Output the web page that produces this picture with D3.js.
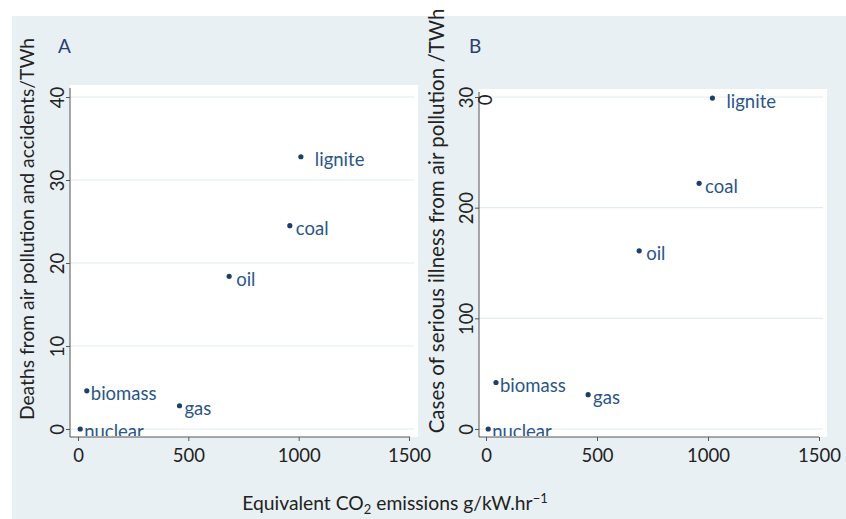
<!DOCTYPE html>
<html>
<head>
<meta charset="utf-8">
<script src="https://cdn.jsdelivr.net/npm/d3@7"></script>
<style>
  body { margin: 0; background: #fff; }
  svg text { font-family: Lato, "Open Sans", sans-serif; }
</style>
</head>
<body>
<div id="chart"></div>
<script>
// data
const sources = ["nuclear", "biomass", "gas", "oil", "coal", "lignite"];
const co2 = [10, 40, 460, 685, 960, 1010];            // g/kW.hr
const co2B = [10, 45, 460, 690, 960, 1020];
const deaths = [0, 4.6, 2.8, 18.4, 24.5, 32.8];         // per TWh
const illness = [0, 42, 31, 161, 222, 299];            // per TWh
const xTicks = [0, 500, 1000, 1500];
const yTicksA = [0, 10, 20, 30, 40];
const yTicksB = [0, 100, 200, 300];
const yTickLabelsB = ["0", "100", "200", "30"];       // the 300 label is split in the original

const width = 846, height = 519;

// gap between a dot and its label (style only)
const labelGap = { nuclear: 4, biomass: 4, gas: 5, oil: 7, coal: 6, lignite: 14 };

const svg = d3.select("#chart")
  .append("svg")
  .attr("width", width)
  .attr("height", height)
  .attr("viewBox", [0, 0, width, height]);

// grey graph region
svg.append("rect")
  .attr("x", 12).attr("y", 16)
  .attr("width", width - 12).attr("height", height - 16)
  .attr("fill", "#e8f0f3");

function panel(cfg) {
  const g = svg.append("g");

  const x = d3.scaleLinear().domain([0, 1500]).range(cfg.xr);
  const y = d3.scaleLinear().domain(cfg.ydom).range([429, 97]);

  // white plot region
  g.append("rect")
    .attr("x", cfg.box[0]).attr("y", cfg.box[1])
    .attr("width", cfg.box[2] - cfg.box[0])
    .attr("height", cfg.box[3] - cfg.box[1])
    .attr("fill", "#fff");

  // gridlines
  g.selectAll(".grid")
    .data(cfg.yticks)
    .join("line")
    .attr("x1", cfg.box[0]).attr("x2", cfg.box[2] - 4)
    .attr("y1", d => y(d)).attr("y2", d => y(d))
    .attr("stroke", "#e2ebf0")
    .attr("stroke-width", 1.2);

  // y axis
  const ya = g.append("g")
    .attr("transform", `translate(${cfg.box[0]},0)`)
    .call(d3.axisLeft(y)
      .tickValues(cfg.yticks)
      .tickSize(4)
      .tickSizeOuter(0)
      .tickFormat((d, i) => cfg.ylabels[i]));
  ya.select(".domain")
    .attr("d", `M0,${cfg.box[1] + 3}V${cfg.box[3]}`)
    .attr("stroke", "#555");
  ya.selectAll(".tick line").attr("stroke", "#555");
  ya.selectAll(".tick text")
    .attr("transform", "rotate(-90)")
    .attr("x", 0).attr("y", -6).attr("dy", 0)
    .attr("text-anchor", "middle")
    .attr("font-size", 18.5)
    .attr("fill", "#222");

  // x axis
  const xa = g.append("g")
    .attr("transform", `translate(0,${cfg.box[3]})`)
    .call(d3.axisBottom(x)
      .tickValues(xTicks)
      .tickSize(4)
      .tickSizeOuter(0)
      .tickFormat(d3.format("d")));
  xa.select(".domain")
    .attr("d", `M${cfg.box[0]},0H${cfg.box[2] - 8}`)
    .attr("stroke", "#555");
  xa.selectAll(".tick line").attr("stroke", "#555");
  xa.selectAll(".tick text")
    .attr("y", 8).attr("dy", "0.9em")
    .attr("font-size", 18.5)
    .attr("fill", "#222");

  // clip labels to the plot region
  const clipId = "clip" + cfg.letter;
  svg.append("clipPath").attr("id", clipId)
    .append("rect")
    .attr("x", cfg.box[0]).attr("y", cfg.box[1] - 20)
    .attr("width", cfg.box[2] - cfg.box[0] + 20)
    .attr("height", cfg.box[3] - cfg.box[1] + 19);

  const pts = sources.map((s, i) => ({ s, x: cfg.xs[i], y: cfg.ys[i] }));

  g.selectAll(".dot")
    .data(pts)
    .join("circle")
    .attr("cx", d => x(d.x))
    .attr("cy", d => y(d.y))
    .attr("r", 2.6)
    .attr("fill", "#1d3f6b");

  g.append("g")
    .attr("clip-path", `url(#${clipId})`)
    .selectAll("text")
    .data(pts)
    .join("text")
    .attr("x", d => x(d.x) + labelGap[d.s])
    .attr("y", d => y(d.y) + 3)
    .attr("dy", "0.35em")
    .attr("font-size", 18.5)
    .attr("fill", "#2b5687")
    .text(d => d.s);

  // panel letter
  g.append("text")
    .attr("x", cfg.letterX).attr("y", 53)
    .attr("font-size", 19)
    .attr("fill", "#2c3d73")
    .text(cfg.letter);

  // y title
  g.append("text")
    .attr("transform", `translate(${cfg.titleX},${cfg.titleY}) rotate(-90)`)
    .attr("text-anchor", "middle")
    .attr("font-size", cfg.titleSize)
    .attr("fill", "#222")
    .text(cfg.title);

  return { x, y };
}

panel({
  letter: "A", letterX: 58,
  xs: co2, ys: deaths,
  ydom: [0, 40], yticks: yTicksA, ylabels: yTicksA.map(String),
  xr: [78, 409], box: [70, 85, 418, 437],
  title: "Deaths from air pollution and accidents/TWh",
  titleX: 34, titleY: 229, titleSize: 19.3
});

const pB = panel({
  letter: "B", letterX: 469,
  xs: co2B, ys: illness,
  ydom: [0, 300], yticks: yTicksB, ylabels: yTickLabelsB,
  xr: [486, 819], box: [479, 89, 827, 437],
  title: "Cases of serious illness from air pollution /TWh",
  titleX: 444, titleY: 221, titleSize: 20.5
});

// stray "0" of the split 300 label
svg.append("text")
  .attr("transform", `translate(${492},${pB.y(300) + 3}) rotate(-90)`)
  .attr("text-anchor", "middle")
  .attr("font-size", 18.5)
  .attr("fill", "#222")
  .text("0");

// shared x title
const xt = svg.append("text")
  .attr("x", 395).attr("y", 510)
  .attr("text-anchor", "middle")
  .attr("font-size", 19.3)
  .attr("fill", "#222");
xt.append("tspan").text("Equivalent CO");
xt.append("tspan").attr("font-size", 13).attr("dy", 4).text("2");
xt.append("tspan").attr("dy", -4).text(" emissions g/kW.hr");
xt.append("tspan").attr("font-size", 13).attr("dy", -7).text("−1");
</script>
</body>
</html>
